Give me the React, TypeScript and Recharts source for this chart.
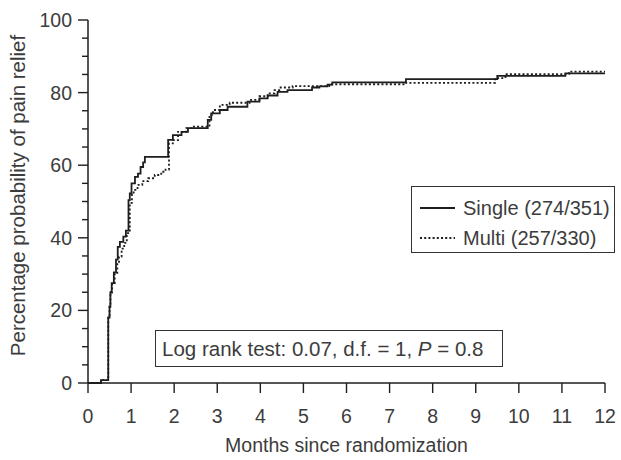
import React from 'react';
import { LineChart, Line, XAxis, YAxis, Label } from 'recharts';

const singleMonths = [0, 0.3, 0.47, 0.5, 0.52, 0.55, 0.6, 0.65, 0.69, 0.74, 0.82, 0.88, 0.94, 0.97, 1.01, 1.09, 1.16, 1.22, 1.28, 1.32, 1.86, 1.97, 2.17, 2.32, 2.78, 2.86, 3.06, 3.24, 3.7, 3.98, 4.17, 4.4, 4.63, 5.2, 5.37, 5.56, 5.67, 7.38, 9.5, 11.08, 12];
const singleValues = [0, 0.8, 18, 21, 25, 27.5, 30.5, 34, 37.5, 38.9, 40.3, 42, 50.4, 52.2, 55, 56.8, 57.7, 59.5, 60.8, 62.3, 67, 68.3, 69.2, 70.2, 72.5, 74.3, 75.2, 76.1, 77.5, 78.4, 79.2, 80.2, 80.7, 81.4, 81.7, 82.2, 82.8, 83.7, 84.6, 85.3, 85.3];

const multiMonths = [0, 0.3, 0.47, 0.5, 0.52, 0.56, 0.62, 0.68, 0.72, 0.78, 0.84, 0.9, 0.97, 1.02, 1.06, 1.15, 1.26, 1.4, 1.55, 1.7, 1.8, 1.88, 1.97, 2.09, 2.28, 2.4, 2.82, 2.9, 3.06, 3.29, 3.75, 3.98, 4.17, 4.33, 4.44, 4.75, 5.6, 7.38, 9.45, 9.69, 11.16, 12];
const multiValues = [0, 0.8, 18, 21, 25, 27.5, 30, 33, 34.8, 37, 38.6, 41.3, 49.6, 52, 53.2, 54.6, 55.6, 56.4, 57.3, 58.2, 58.8, 66, 66.9, 69.2, 70.2, 70.6, 73.8, 75.2, 76.6, 77.2, 78, 79, 79.8, 80.7, 81.4, 81.8, 82.3, 82.7, 84, 85.1, 85.8, 85.8];

const xTicks = [0, 1, 2, 3, 4, 5, 6, 7, 8, 9, 10, 11, 12];
const yTicks = [0, 5, 10, 15, 20, 25, 30, 35, 40, 45, 50, 55, 60, 65, 70, 75, 80, 85, 90, 95, 100];
const yLabelTicks = [0, 20, 40, 60, 80, 100];

const xTitle = 'Months since randomization';
const yTitle = 'Percentage probability of pain relief';
const seriesNames = ['Single (274/351)', 'Multi (257/330)'];
const testText = 'Log rank test: 0.07, d.f. = 1, ';
const testP = 'P';
const testPValue = ' = 0.8';

const singleData = singleMonths.map((m, i) => ({ m, v: singleValues[i] }));
const multiData = multiMonths.map((m, i) => ({ m, v: multiValues[i] }));

const FONT = '"Liberation Sans", Arial, Helvetica, sans-serif';
const TEXT = '#3c3c3c';
const INK = '#1e1e1e';

const YTick = (props: any) => {
  const { x, y, payload } = props;
  const major = yLabelTicks.includes(payload.value);
  return (
    <g>
      <line x1={x} x2={x - (major ? 10 : 6)} y1={y} y2={y} stroke={INK} strokeWidth={1.4} />
      {major && (
        <text x={x - 16} y={y} dy="0.36em" textAnchor="end" fontSize={19.5} fill={TEXT} fontFamily={FONT}>
          {payload.value}
        </text>
      )}
    </g>
  );
};

const XTitle = (props: any) => {
  const vb = props.viewBox || {};
  return (
    <text x={vb.x + vb.width / 2} y={vb.y + 69} textAnchor="middle" fontSize={19.5} fill={TEXT} fontFamily={FONT}>
      {xTitle}
    </text>
  );
};

const YTitle = (props: any) => {
  const vb = props.viewBox || {};
  const cx = vb.x - 10;
  const cy = vb.y + vb.height / 2 - 6;
  return (
    <text x={cx} y={cy} transform={`rotate(-90 ${cx} ${cy})`} textAnchor="middle" dy="0.36em" fontSize={20.5} fill={TEXT} fontFamily={FONT}>
      {yTitle}
    </text>
  );
};

export default function App() {
  return (
    <div style={{ position: 'absolute', left: 0, top: 0, width: 621, height: 460, background: '#fff' }}>
      <LineChart width={621} height={460} margin={{ top: 20, right: 16, bottom: 17, left: 28 }}>
        <XAxis
          type="number"
          dataKey="m"
          domain={[0, 12]}
          ticks={xTicks}
          interval={0}
          tickSize={10}
          tickMargin={16}
          height={60}
          axisLine={{ stroke: INK, strokeWidth: 1.5 }}
          tickLine={{ stroke: INK, strokeWidth: 1.4 }}
          tick={{ fontSize: 19.5, fill: TEXT, fontFamily: FONT }}
        >
          <Label content={XTitle} />
        </XAxis>
        <YAxis
          type="number"
          domain={[0, 100]}
          ticks={yTicks}
          interval={0}
          tickSize={0}
          tickMargin={0}
          width={60}
          axisLine={{ stroke: INK, strokeWidth: 1.5 }}
          tickLine={false}
          tick={YTick}
        >
          <Label content={YTitle} />
        </YAxis>
        <Line data={singleData} dataKey="v" type="stepAfter" stroke={INK} strokeWidth={1.8} dot={false} isAnimationActive={false} />
        <Line data={multiData} dataKey="v" type="stepAfter" stroke={INK} strokeWidth={1.8} strokeDasharray="2 2.2" dot={false} isAnimationActive={false} />
      </LineChart>
      <div
        style={{
          position: 'absolute', left: 411, top: 186, width: 202, height: 65,
          border: '1.3px solid #333', background: '#fff', fontFamily: FONT, fontSize: 20, color: TEXT,
        }}
      >
        <svg style={{ position: 'absolute', left: 0, top: 0 }} width={50} height={65}>
          <line x1={8} x2={43} y1={21} y2={21} stroke={INK} strokeWidth={1.8} />
          <line x1={8} x2={43} y1={51} y2={51} stroke={INK} strokeWidth={1.8} strokeDasharray="2 2.2" />
        </svg>
        <div style={{ position: 'absolute', left: 51, top: 10, lineHeight: '23px', whiteSpace: 'nowrap' }}>{seriesNames[0]}</div>
        <div style={{ position: 'absolute', left: 51, top: 40, lineHeight: '23px', whiteSpace: 'nowrap' }}>{seriesNames[1]}</div>
      </div>
      <div
        style={{
          position: 'absolute', left: 155, top: 330, width: 346, height: 35,
          border: '1.3px solid #333', background: '#fff', fontFamily: FONT, fontSize: 20.5, color: TEXT,
          boxSizing: 'content-box',
        }}
      >
        <div style={{ position: 'absolute', left: 6, top: 6, lineHeight: '24px', whiteSpace: 'nowrap' }}>
          {testText}<i>{testP}</i>{testPValue}
        </div>
      </div>
    </div>
  );
}
